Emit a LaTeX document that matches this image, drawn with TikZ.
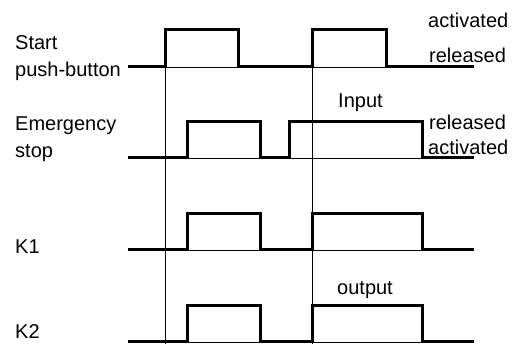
\documentclass[tikz,border=0pt]{standalone}
\usepackage{fontspec}
\setmainfont{Liberation Sans}
\usetikzlibrary{positioning}

\begin{document}
\begin{tikzpicture}[
        x=1pt, y=-1pt,
        lbl/.style={inner sep=0pt, anchor=base west, align=left, font=\fontsize{20}{27}\selectfont},
        signal/.style={line width=3pt, line join=miter},
        base/.style={line width=0.9pt},
        marker/.style={line width=0.9pt}
      ]
        \useasboundingbox (0,0) rectangle (512,344);

        % Labels
        \node[lbl] (start) at (15,77) {Start\\push-button};
        \node[lbl] (estop) at (15,158) {Emergency\\stop};
        \node[lbl] (kone) at (15,254) {K1};
        \node[lbl] (ktwo) at (15,339) {K2};
        \node[lbl] (act1) at (428,28) {activated};
        \node[lbl] (rel1) at (429,63) {released};
        \node[lbl] (input) at (338,108) {Input};
        \node[lbl] (rel2) at (429,130) {released};
        \node[lbl] (act2) at (428,155) {activated};
        \node[lbl] (output) at (337,295) {output};

        % Time markers
        \draw[marker] (165,30) -- (165,344);
        \draw[marker] (312,30) -- (312,344);

        % Base lines
        \draw[base] (128,67) -- (474,67);
        \draw[base] (128,158) -- (474,158);
        \draw[base] (128,250) -- (474,250);
        \draw[base] (128,342) -- (474,342);

        % Signals
        \draw[signal] (128,67) -- (165,67) -- (165,30) -- (238,30) -- (238,67) -- (312,67) -- (312,30) -- (386,30) -- (386,67) -- (474,67);
        \draw[signal] (128,158) -- (187,158) -- (187,122) -- (260,122) -- (260,158) -- (289,158) -- (289,122) -- (422,122) -- (422,158) -- (474,158);
        \draw[signal] (128,250) -- (187,250) -- (187,214) -- (260,214) -- (260,250) -- (312,250) -- (312,214) -- (422,214) -- (422,250) -- (474,250);
        \draw[signal] (128,342) -- (187,342) -- (187,306) -- (260,306) -- (260,342) -- (312,342) -- (312,306) -- (422,306) -- (422,342) -- (474,342);
      \end{tikzpicture}
\end{document}
